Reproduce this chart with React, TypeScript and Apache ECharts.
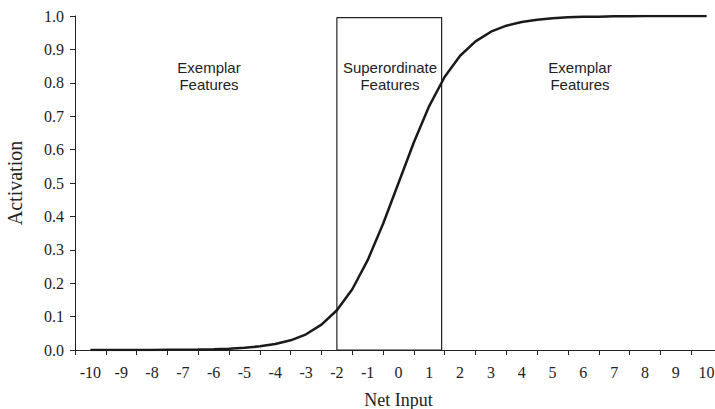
import React, { useEffect, useRef } from "react";
import * as echarts from "echarts";

const categories = ["-10","-9","-8","-7","-6","-5","-4","-3","-2","-1","0","1","2","3","4","5","6","7","8","9","10"];
const netInput = [-10,-9.5,-9,-8.5,-8,-7.5,-7,-6.5,-6,-5.5,-5,-4.5,-4,-3.5,-3,-2.5,-2,-1.5,-1,-0.5,0,0.5,1,1.5,2,2.5,3,3.5,4,4.5,5,5.5,6,6.5,7,7.5,8,8.5,9,9.5,10];
const activation = [0.0,0.0001,0.0001,0.0002,0.0003,0.0006,0.0009,0.0015,0.0025,0.0041,0.0067,0.011,0.018,0.029,0.047,0.076,0.119,0.182,0.269,0.378,0.5,0.622,0.731,0.818,0.881,0.924,0.953,0.971,0.982,0.989,0.993,0.996,0.998,0.998,0.999,0.999,1.0,1.0,1.0,1.0,1.0];
const boxX = [-2, -2, 1.4, 1.4, -2];
const boxY = [0, 0.995, 0.995, 0, 0];
const regionLabels = ["Exemplar\nFeatures", "Superordinate\nFeatures", "Exemplar\nFeatures"];
const regionCenters = [209, 390, 580];

export default function App() {
  const ref = useRef<HTMLDivElement>(null);
  useEffect(() => {
    const chart = echarts.init(ref.current!, null, { renderer: "svg" });
    const serif = "'Liberation Serif', 'Times New Roman', serif";
    const sans = "'Liberation Sans', Arial, sans-serif";
    chart.setOption({
      animation: false,
      backgroundColor: "#ffffff",
      grid: { left: 75, top: 16, width: 647, height: 334, outerBoundsMode: "none", containLabel: false },
      xAxis: [
        {
          type: "category",
          data: categories,
          boundaryGap: true,
          position: "bottom",
          name: "Net Input",
          nameLocation: "middle",
          nameGap: 41,
          nameTextStyle: { fontFamily: serif, fontSize: 18, color: "#222" },
          axisLine: { show: true, onZero: false, lineStyle: { color: "#222", width: 1 } },
          axisTick: { show: true, interval: 0, length: 5, lineStyle: { color: "#222" } },
          axisLabel: { interval: 0, margin: 14, fontFamily: serif, fontSize: 16, color: "#222" },
          splitLine: { show: false },
        },
        {
          type: "value",
          min: -10.5,
          max: 10.5,
          show: false,
          position: "bottom",
        },
      ],
      yAxis: {
        type: "value",
        min: 0,
        max: 1,
        interval: 0.1,
        name: "Activation",
        nameLocation: "middle",
        nameGap: 50,
        nameRotate: 90,
        nameTextStyle: { fontFamily: serif, fontSize: 20, color: "#222" },
        axisLine: { show: true, onZero: false, lineStyle: { color: "#222", width: 1 } },
        axisTick: { show: true, length: 5, lineStyle: { color: "#222" } },
        axisLabel: {
          margin: 11,
          fontFamily: serif,
          fontSize: 16,
          color: "#222",
          formatter: (v: number) => v.toFixed(1),
        },
        splitLine: { show: false },
      },
      series: [
        {
          type: "line",
          xAxisIndex: 1,
          data: boxX.map((x, i) => [x, boxY[i]]),
          showSymbol: false,
          lineStyle: { color: "#222", width: 1.2 },
          silent: true,
          z: 2,
        },
        {
          type: "line",
          xAxisIndex: 1,
          data: netInput.map((x, i) => [x, activation[i]]),
          showSymbol: false,
          lineStyle: { color: "#1a1a1a", width: 2.5 },
          silent: true,
          z: 3,
        },
      ],
      graphic: regionLabels.map((t, i) => ({
        type: "text",
        x: regionCenters[i],
        y: 59,
        style: {
          text: t,
          fontFamily: sans,
          fontSize: 15,
          lineHeight: 17,
          fill: "#222",
          align: "center",
          verticalAlign: "top",
        },
      })),
    });
    return () => chart.dispose();
  }, []);
  return <div ref={ref} style={{ position: "fixed", left: 0, top: 0, width: 715, height: 409 }} />;
}
